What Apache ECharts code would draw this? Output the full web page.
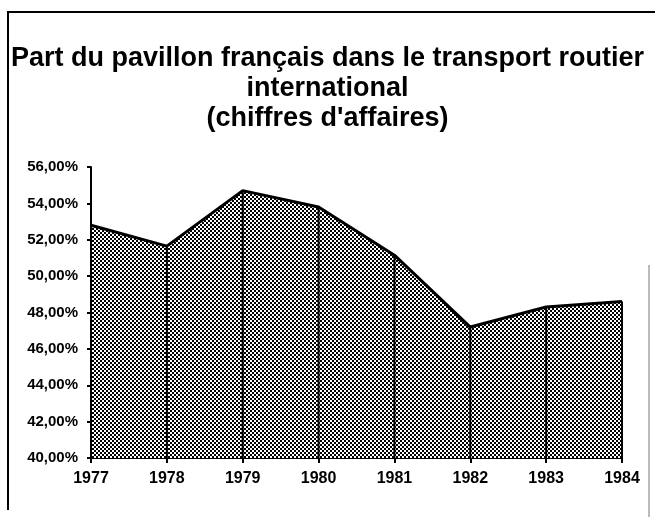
<!DOCTYPE html>
<html>
<head>
<meta charset="utf-8">
<script src="https://cdn.jsdelivr.net/npm/echarts@6/dist/echarts.min.js"></script>
<style>
  html, body { margin: 0; padding: 0; background: #fff; }
  #chart { width: 655px; height: 517px; }
</style>
</head>
<body>
<div id="chart"></div>
<script>
const years = ['1977', '1978', '1979', '1980', '1981', '1982', '1983', '1984'];
const share = [52.8, 51.65, 54.7, 53.8, 51.15, 47.2, 48.3, 48.6];
const yMin = 40;
const yMax = 56;
const yStep = 2;

// motif pointillé du remplissage
function makeDots() {
  const c = document.createElement('canvas');
  c.width = 4;
  c.height = 4;
  const ctx = c.getContext('2d');
  ctx.fillStyle = '#fff';
  ctx.fillRect(0, 0, 4, 4);
  ctx.fillStyle = '#000';
  ctx.fillRect(0, 0, 2, 2);
  ctx.fillRect(2, 2, 2, 2);
  return c;
}

const chart = echarts.init(document.getElementById('chart'));
const font = 'Arial, "Liberation Sans", Helvetica, sans-serif';
const narrow = '"Liberation Sans Narrow", "Arial Narrow", Arial, sans-serif';

const option = {
  animation: false,
  backgroundColor: '#fff',
  title: {
    text: 'Part du pavillon français dans le transport routier\ninternational\n(chiffres d\'affaires)',
    left: 'center',
    top: 39,
    textStyle: {
      fontFamily: font,
      fontWeight: 'bold',
      fontSize: 27,
      lineHeight: 30,
      color: '#000'
    }
  },
  grid: {
    left: 91,
    right: 33,
    top: 167,
    bottom: 59
  },
  xAxis: {
    type: 'category',
    data: years,
    boundaryGap: false,
    axisLine: { lineStyle: { color: '#000', width: 2 } },
    axisTick: { show: true, length: 5, lineStyle: { color: '#000', width: 2 } },
    axisLabel: {
      color: '#000',
      fontFamily: narrow,
      fontWeight: 'bold',
      fontSize: 16,
      margin: 13
    },
    splitLine: { show: false }
  },
  yAxis: {
    type: 'value',
    min: yMin,
    max: yMax,
    interval: yStep,
    axisLine: { show: true, lineStyle: { color: '#000', width: 2 } },
    axisTick: { show: true, length: 4, lineStyle: { color: '#000', width: 2 } },
    axisLabel: {
      color: '#000',
      fontFamily: narrow,
      fontWeight: 'bold',
      fontSize: 15,
      margin: 13,
      formatter: v => v.toFixed(2).replace('.', ',') + '%'
    },
    splitLine: { show: false }
  },
  graphic: [
    {
      type: 'polyline',
      shape: { points: [[8, 510], [8, 12], [655, 12]] },
      style: { stroke: '#000', lineWidth: 2, fill: null }
    },
    {
      type: 'line',
      shape: { x1: 649, y1: 265, x2: 649, y2: 517 },
      style: { stroke: '#777', lineWidth: 1 }
    }
  ],
  series: [
    {
      type: 'line',
      data: share,
      symbol: 'none',
      lineStyle: { color: '#000', width: 3 },
      areaStyle: {
        color: { image: makeDots(), repeat: 'repeat' },
        opacity: 1
      },
      z: 2
    },
    {
      type: 'bar',
      data: share,
      barWidth: 2,
      itemStyle: { color: '#000' },
      z: 3
    }
  ]
};

chart.setOption(option);
</script>
</body>
</html>
